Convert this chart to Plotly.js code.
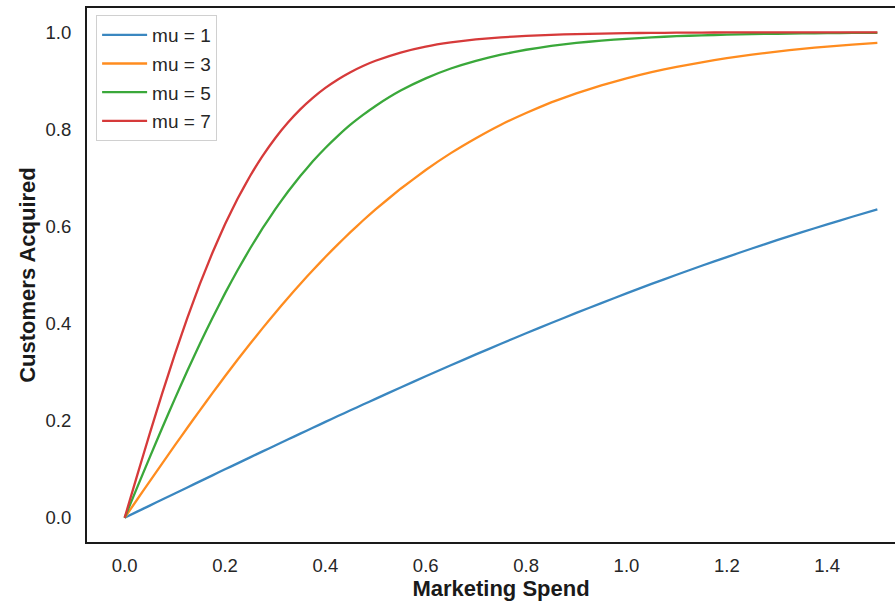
<!DOCTYPE html>
<html>
<head>
<meta charset="utf-8">
<script src="https://cdn.plot.ly/plotly-3.0.1.min.js"></script>
<style>
html,body{margin:0;padding:0;overflow:hidden;background:#fff;}
#chart{width:930px;height:602px;}
</style>
</head>
<body>
<div id="chart"></div>
<script>
// Marketing spend (x) values
const spend = [0,0.025,0.05,0.075,0.1,0.125,0.15,0.175,0.2,0.225,0.25,0.275,0.3,0.325,0.35,0.375,0.4,0.425,0.45,0.475,0.5,
  0.55,0.6,0.65,0.7,0.75,0.8,0.85,0.9,0.95,1.0,1.05,1.1,1.15,1.2,1.25,1.3,1.35,1.4,1.45,1.5];

// Customers acquired
const mu1 = [0,0.0125,0.0250,0.0375,0.0500,0.0624,0.0749,0.0873,0.0997,0.1120,0.1244,0.1366,0.1489,0.1611,0.1732,0.1853,0.1974,0.2094,0.2213,0.2331,0.2449,
  0.2683,0.2913,0.3140,0.3364,0.3584,0.3799,0.4011,0.4219,0.4422,0.4621,0.4816,0.5005,0.5190,0.5370,0.5546,0.5717,0.5882,0.6044,0.6200,0.6351];
const mu3 = [0,0.0375,0.0749,0.1120,0.1489,0.1853,0.2213,0.2566,0.2913,0.3253,0.3584,0.3906,0.4219,0.4522,0.4816,0.5098,0.5370,0.5632,0.5882,0.6122,0.6351,
  0.6777,0.7163,0.7510,0.7818,0.8096,0.8337,0.8556,0.8741,0.8907,0.9051,0.9178,0.9289,0.9381,0.9468,0.9539,0.9603,0.9658,0.9705,0.9746,0.9780];
const mu5 = [0,0.0624,0.1244,0.1853,0.2449,0.3027,0.3584,0.4116,0.4621,0.5098,0.5546,0.5964,0.6351,0.6710,0.7039,0.7341,0.7616,0.7866,0.8096,0.8298,0.8483,
  0.8799,0.9051,0.9254,0.9413,0.9539,0.9640,0.9719,0.9780,0.9829,0.9866,0.9896,0.9919,0.9937,0.9951,0.9962,0.9970,0.9977,0.9982,0.9986,0.9989];
const mu7 = [0,0.0873,0.1732,0.2566,0.3364,0.4116,0.4816,0.5459,0.6044,0.6570,0.7039,0.7454,0.7818,0.8136,0.8412,0.8649,0.8854,0.9029,0.9178,0.9306,0.9413,
  0.9583,0.9705,0.9791,0.9852,0.9896,0.9926,0.9948,0.9963,0.9974,0.9982,0.9987,0.9991,0.9994,0.9996,0.9997,0.9998,0.9998,0.9999,0.9999,0.9999];

const seriesNames = ["mu = 1","mu = 3","mu = 5","mu = 7"];
const seriesValues = [mu1, mu3, mu5, mu7];
const colors = ["#3a87c0","#ff8c1f","#3aa83a","#d63a3a"];

const font = "Liberation Sans, Arial, Helvetica, sans-serif";

const traces = seriesValues.map((ys, i) => ({
  x: spend, y: ys, type: "scatter", mode: "lines",
  name: seriesNames[i], legendgroup: "g" + i,
  line: {color: colors[i], width: 2.3, shape: "spline", smoothing: 0.3}
}));

const layout = {
  width: 930, height: 602,
  margin: {l: 87, r: 15, t: 8, b: 60},
  paper_bgcolor: "#fff", plot_bgcolor: "#fff",
  font: {family: font, color: "#262626", size: 18},
  showlegend: true,
  legend: {
    x: 0.011, y: 0.987, xanchor: "left", yanchor: "top",
    bgcolor: "#fff", bordercolor: "#d0d0d0", borderwidth: 1,
    font: {family: font, size: 19, color: "#262626"},
    itemwidth: 45,
    tracegroupgap: 1
  },
  xaxis: {
    range: [-0.075, 1.575],
    tickvals: [0,0.2,0.4,0.6,0.8,1.0,1.2,1.4],
    ticktext: ["0.0","0.2","0.4","0.6","0.8","1.0","1.2","1.4"],
    showgrid: false, zeroline: false,
    showline: true, mirror: true, linecolor: "#1a1a1a", linewidth: 2,
    ticks: "outside", ticklen: 6, tickcolor: "rgba(0,0,0,0)",
    tickfont: {family: font, size: 18.5, color: "#262626"},
    title: {text: "<b>Marketing Spend</b>", font: {family: font, size: 22, color: "#1a1a1a"}, standoff: 4},
    fixedrange: true
  },
  yaxis: {
    range: [-0.05, 1.05],
    tickvals: [0,0.2,0.4,0.6,0.8,1.0],
    ticktext: ["0.0","0.2","0.4","0.6","0.8","1.0"],
    showgrid: false, zeroline: false,
    showline: true, mirror: true, linecolor: "#1a1a1a", linewidth: 2,
    ticks: "outside", ticklen: 10, tickcolor: "rgba(0,0,0,0)",
    tickfont: {family: font, size: 18.5, color: "#262626"},
    title: {text: "<b>Customers Acquired</b>", font: {family: font, size: 22, color: "#1a1a1a"}, standoff: 4},
    fixedrange: true
  }
};

Plotly.newPlot("chart", traces, layout, {displayModeBar: false, staticPlot: true});
</script>
</body>
</html>
